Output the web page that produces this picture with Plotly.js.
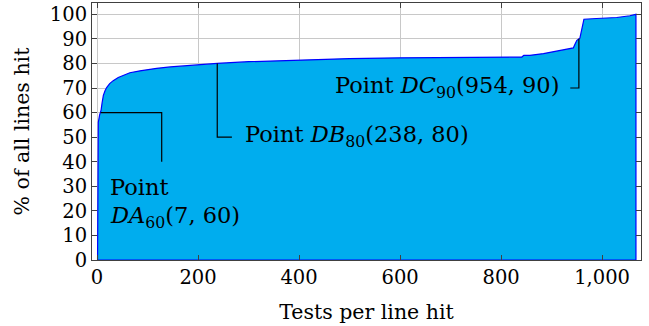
<!DOCTYPE html>
<html><head><meta charset="utf-8">
<script src="https://cdn.plot.ly/plotly-3.0.1.min.js"></script>
<style>html,body{margin:0;padding:0;background:#fff}#c{width:649px;height:326px}</style>
</head><body><div id="c"></div>
<script>
// cumulative coverage curve (tests per line hit vs % of all lines hit)
const testsPerLine = [1,1,2.5,5,7,8,10,12.5,16,19,25,32,42,52,65,85,100,118,145,180,238,300,400,500,600,700,760,841,845,857,884,900,920,943,946,950,956,960,964,989,1029,1055,1067];
const pctLinesHit  = [0,50,56,59,60,61,64,67,69,70.2,71.8,73,74.3,75.2,76.2,77,77.5,78,78.6,79.2,80,80.7,81.5,82,82.3,82.5,82.6,82.6,83.3,83.3,84,84.7,85.6,86.3,87.7,89.4,90.3,94.2,98,98.3,98.7,99.4,100];
const xTicks = [0,200,400,600,800,1000];
const xTickText = ["0","200","400","600","800","1,000"];
const yTicks = [0,10,20,30,40,50,60,70,80,90,100];
// marked points
const ptNames = ["DA","DB","DC"];
const ptSubs = ["60","80","90"];
const ptX = [7,238,954];
const ptY = [60,80,90];

const xs = testsPerLine.concat([testsPerLine[testsPerLine.length-1], testsPerLine[0]]);
const ys = pctLinesHit.concat([0,0]);

const FONT = "DejaVu Serif";
const fsTick = 19.5;
const fsTitle = 20.5;
const fsAnn = 22.5;

const trace = {x: xs, y: ys, type: 'scatter', mode: 'lines', fill: 'toself',
  fillcolor: '#00ADEE', line: {color: '#0000FF', width: 1.2}, hoverinfo: 'skip'};

function lbl(i){ return "Point <i>" + ptNames[i] + "</i><sub>" + ptSubs[i] + "</sub>(" + ptX[i] + ", " + ptY[i] + ")"; }

const shapes = [
  {type:'path', xref:'x', yref:'y', path:`M${ptX[0]},${ptY[0]} L128,${ptY[0]} L128,40`, line:{color:'#000', width:1.2}},
  {type:'path', xref:'x', yref:'y', path:`M${ptX[1]},${ptY[1]} L${ptX[1]},50 L267,50`, line:{color:'#000', width:1.2}},
  {type:'path', xref:'x', yref:'y', path:`M${ptX[2]},${ptY[2]} L${ptX[2]},70 L937,70`, line:{color:'#000', width:1.2}}
];

const af = {family:FONT,size:fsAnn,color:'#000'};
const annotations = [
  {x:21, y:29.7, xref:'x', yref:'y', text:"Point", showarrow:false, xanchor:'left', yanchor:'middle', font:af},
  {x:21, y:17.3, xref:'x', yref:'y', text:"<i>"+ptNames[0]+"</i><sub>"+ptSubs[0]+"</sub>("+ptX[0]+", "+ptY[0]+")", showarrow:false, xanchor:'left', yanchor:'middle', font:af},
  {x:288, y:50.5, xref:'x', yref:'y', text:lbl(1), showarrow:false, xanchor:'left', yanchor:'middle', font:af},
  {x:918, y:70.5, xref:'x', yref:'y', text:lbl(2), showarrow:false, xanchor:'right', yanchor:'middle', font:af}
];

const layout = {
  width:649, height:326,
  margin:{l:92, r:8, t:3, b:66},
  paper_bgcolor:'#fff', plot_bgcolor:'#fff',
  showlegend:false,
  font:{family:FONT, size:fsTick, color:'#000'},
  xaxis:{range:[-10,1077], tickvals:xTicks, ticktext:xTickText, showgrid:true, gridcolor:'#c8c8c8', gridwidth:1,
    zeroline:false, showline:true, linecolor:'#404040', linewidth:1, mirror:'ticks', ticks:'inside', ticklen:5, tickcolor:'#404040',
    tickfont:{family:FONT,size:fsTick,color:'#000'}, title:{text:'Tests per line hit', font:{family:FONT,size:fsTitle,color:'#000'}, standoff:16}},
  yaxis:{range:[0,104.6], tickvals:yTicks, showgrid:true, gridcolor:'#c8c8c8', gridwidth:1,
    zeroline:false, showline:true, linecolor:'#404040', linewidth:1, mirror:'ticks', ticks:'inside', ticklen:5, tickcolor:'#404040',
    tickfont:{family:FONT,size:fsTick,color:'#000'}, title:{text:'% of all lines hit', font:{family:FONT,size:fsTitle,color:'#000'}, standoff:14}},
  shapes: shapes,
  annotations: annotations
};
Plotly.newPlot('c', [trace], layout, {staticPlot:true, displayModeBar:false});
</script></body></html>
